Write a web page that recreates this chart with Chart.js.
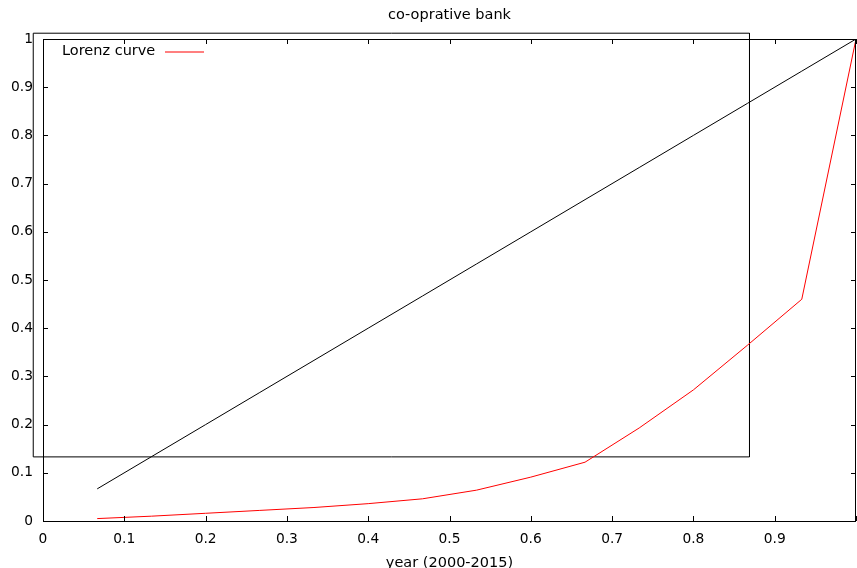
<!DOCTYPE html>
<html>
<head>
<meta charset="utf-8">
<script src="https://cdn.jsdelivr.net/npm/chart.js@4/dist/chart.umd.min.js"></script>
<style>
  html, body { margin: 0; padding: 0; background: #fff; overflow: hidden; }
  #wrap { width: 857px; height: 568px; }
</style>
</head>
<body>
<div id="wrap"><canvas id="graph"></canvas></div>
<script>
// share of population (1/15 steps)
const xValues = [0.0667, 0.1333, 0.2, 0.2667, 0.3333, 0.4, 0.4667, 0.5333, 0.6, 0.6667, 0.7333, 0.8, 0.8667, 0.9333, 1.0];
// Lorenz curve values
const lorenzValues = [0.005, 0.010, 0.016, 0.022, 0.028, 0.036, 0.046, 0.064, 0.091, 0.122, 0.193, 0.272, 0.365, 0.46, 1.0];
// line of equality
const equalityValues = [0.0667, 0.1333, 0.2, 0.2667, 0.3333, 0.4, 0.4667, 0.5333, 0.6, 0.6667, 0.7333, 0.8, 0.8667, 0.9333, 1.0];
// stray key box drawn by the original plot
const keyBoxX = [-0.012, 0.869, 0.869, -0.012, -0.012];
const keyBoxY = [1.012, 1.012, 0.133, 0.133, 1.012];

const FONT = 'DejaVu Sans';
const TICK_SIZE = 13.8;
const TEXT_SIZE = 14.5;

const toPoints = (xs, ys) => xs.map((x, i) => ({ x, y: ys[i] }));

// gnuplot style frame: title, border, inward ticks on all four sides, key
const frame = {
  id: 'frame',
  afterDraw(chart) {
    const { ctx, chartArea: a, scales } = chart;
    ctx.save();

    // title centred over the plot area
    ctx.font = `${TEXT_SIZE}px "${FONT}"`;
    ctx.fillStyle = '#000';
    ctx.textBaseline = 'middle';
    ctx.textAlign = 'center';
    ctx.fillText('co-oprative bank', (a.left + a.right) / 2, 15.5);

    ctx.strokeStyle = '#000';
    ctx.lineWidth = 1;
    ctx.strokeRect(Math.round(a.left) + 0.5, Math.round(a.top) + 0.5,
      Math.round(a.right - a.left) - 1, Math.round(a.bottom - a.top));
    const len = 5;
    ctx.beginPath();
    scales.x.ticks.forEach(t => {
      const px = Math.round(scales.x.getPixelForValue(t.value)) + 0.5;
      ctx.moveTo(px, a.bottom); ctx.lineTo(px, a.bottom - len);
      ctx.moveTo(px, a.top); ctx.lineTo(px, a.top + len);
    });
    scales.y.ticks.forEach(t => {
      const py = Math.round(scales.y.getPixelForValue(t.value)) + 0.5;
      ctx.moveTo(a.left, py); ctx.lineTo(a.left + len, py);
      ctx.moveTo(a.right, py); ctx.lineTo(a.right - len, py);
    });
    ctx.stroke();

    // key: text then sample line
    ctx.textAlign = 'left';
    const ky = a.top + 12.5;
    ctx.fillText('Lorenz curve', a.left + 19, ky);
    ctx.beginPath();
    ctx.strokeStyle = '#ff0000';
    ctx.lineWidth = 1.2;
    ctx.moveTo(a.left + 122, Math.round(ky));
    ctx.lineTo(a.left + 161, Math.round(ky));
    ctx.stroke();
    ctx.restore();
  }
};

const chart = new Chart(document.getElementById('graph'), {
  type: 'line',
  data: {
    datasets: [
      {
        label: 'Lorenz curve',
        data: toPoints(xValues, lorenzValues),
        borderColor: '#ff0000',
        borderWidth: 1,
        pointRadius: 0,
        tension: 0,
      },
      {
        label: 'equality',
        data: toPoints(xValues, equalityValues),
        borderColor: '#000',
        borderWidth: 1,
        pointRadius: 0,
        tension: 0,
      },
      {
        label: 'key box',
        data: toPoints(keyBoxX, keyBoxY),
        borderColor: '#000',
        borderWidth: 1,
        pointRadius: 0,
        tension: 0,
        clip: false,
      },
    ],
  },
  options: {
    responsive: true,
    maintainAspectRatio: false,
    animation: false,
    layout: { padding: { left: 0, right: 1, top: 39, bottom: 0 } },
    plugins: {
      legend: { display: false },
      tooltip: { enabled: false },
      title: { display: false },
    },
    scales: {
      x: {
        type: 'linear',
        min: 0,
        max: 1,
        grid: { display: false, drawTicks: false },
        border: { display: false },
        ticks: {
          stepSize: 0.1,
          padding: 10,
          maxRotation: 0,
          color: '#000',
          font: { family: FONT, size: TICK_SIZE },
          callback: v => (v >= 1 ? '' : String(+v.toFixed(1))),
        },
        title: {
          display: true,
          text: 'year (2000-2015)',
          color: '#000',
          font: { family: FONT, size: TEXT_SIZE },
          padding: { top: 0, bottom: -3.5 },
        },
        afterFit: s => { s.height = 47; s.paddingLeft = 0; s.paddingRight = 0; },
      },
      y: {
        type: 'linear',
        min: 0,
        max: 1,
        grid: { display: false, drawTicks: false },
        border: { display: false },
        ticks: {
          stepSize: 0.1,
          padding: 10,
          color: '#000',
          font: { family: FONT, size: TICK_SIZE },
          callback: v => String(+v.toFixed(1)),
        },
        afterFit: s => { s.width = 43; s.paddingTop = 0; s.paddingBottom = 0; },
      },
    },
  },
  plugins: [frame],
});
</script>
</body>
</html>
